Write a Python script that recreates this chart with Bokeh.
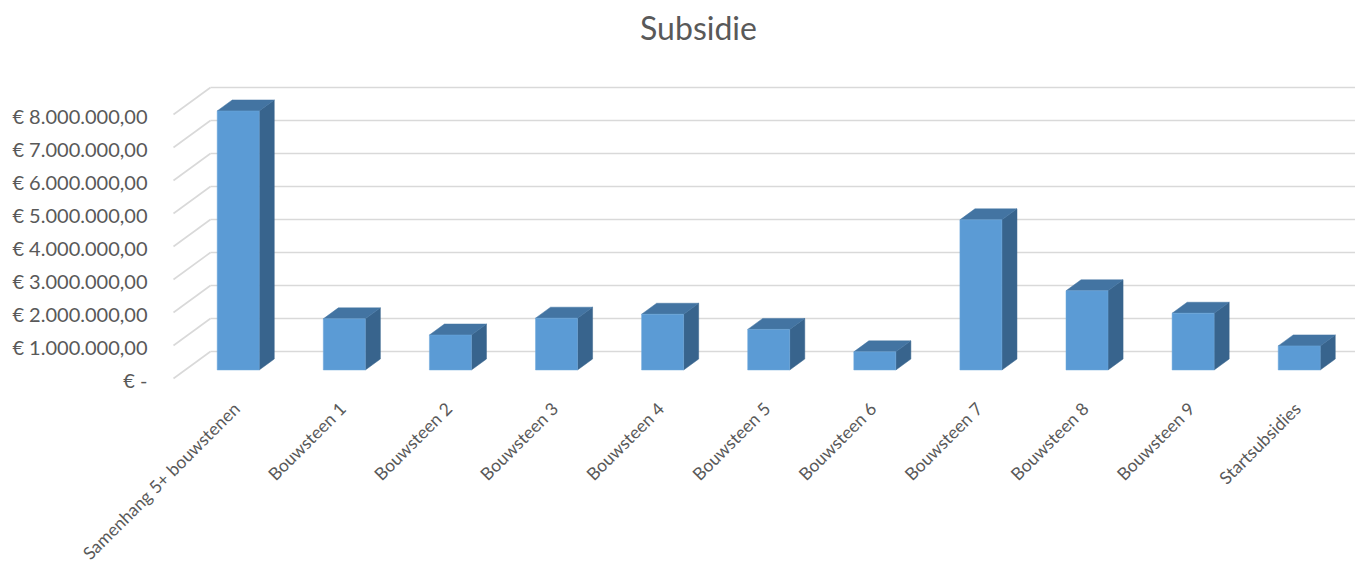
import numpy as np
from bokeh.plotting import figure
from bokeh.models import Range1d
from bokeh.core.properties import value
from bokeh.embed import file_html
from bokeh.resources import INLINE

# ---------------- data ----------------
title_text = "Subsidie"
categories = ["Samenhang 5+ bouwstenen", "Bouwsteen 1", "Bouwsteen 2", "Bouwsteen 3",
              "Bouwsteen 4", "Bouwsteen 5", "Bouwsteen 6", "Bouwsteen 7",
              "Bouwsteen 8", "Bouwsteen 9", "Startsubsidies"]
subsidie = [7850000, 1550000, 1060000, 1570000, 1690000, 1230000,
            550000, 4550000, 2400000, 1720000, 730000]
y_ticks = [0, 1000000, 2000000, 3000000, 4000000, 5000000, 6000000, 7000000, 8000000]
y_tick_labels = ["€ -", "€ 1.000.000,00", "€ 2.000.000,00", "€ 3.000.000,00",
                 "€ 4.000.000,00", "€ 5.000.000,00", "€ 6.000.000,00",
                 "€ 7.000.000,00", "€ 8.000.000,00"]

# ---------------- 3D geometry (data units) ----------------
DEPTH_X = 0.3487        # floor depth, in category units
DEPTH_Y = 818000        # floor depth, in value units
F_FRONT, F_BACK = 0.315, 0.722   # bar position within the depth
HALF_W = 0.198
GRID_END = 12.0

FRONT_C = "#5B9BD5"
TOP_C = "#4374A2"
SIDE_C = "#38648D"
GRID_C = "#D9D9D9"
TEXT_C = "#595959"
FONT = "Lato"

p = figure(width=1355, height=571, output_backend="svg", toolbar_location=None,
           x_range=Range1d(-1.6305, 11.1404), y_range=Range1d(-5848500, 11454500),
           x_axis_location=None, y_axis_location=None, min_border=0,
           outline_line_color=None, tools="")
p.grid.visible = False
p.background_fill_color = "white"

# gridlines: back wall + floor-side diagonals
gx0 = [DEPTH_X for _ in y_ticks]
gx1 = [GRID_END for _ in y_ticks]
gy = [t + DEPTH_Y for t in y_ticks]
p.segment(x0=gx0, y0=gy, x1=gx1, y1=gy, line_color=GRID_C, line_width=1.6)
p.segment(x0=[0 for _ in y_ticks], y0=y_ticks, x1=gx0, y1=gy,
          line_color=GRID_C, line_width=1.6)

# bars
idx = np.arange(len(categories))
dx1, dy1 = F_FRONT * DEPTH_X, F_FRONT * DEPTH_Y
dx2, dy2 = F_BACK * DEPTH_X, F_BACK * DEPTH_Y
L = idx + 0.5 - HALF_W
R = idx + 0.5 + HALF_W
v = np.array(subsidie, dtype=float)

side_xs = [[r + dx1, r + dx2, r + dx2, r + dx1] for r in R]
side_ys = [[dy1, dy2, val + dy2, val + dy1] for val in v]
top_xs = [[l + dx1, r + dx1, r + dx2, l + dx2] for l, r in zip(L, R)]
top_ys = [[val + dy1, val + dy1, val + dy2, val + dy2] for val in v]

p.patches(xs=side_xs, ys=side_ys, fill_color=SIDE_C, line_color=SIDE_C, line_width=0.5)
p.patches(xs=top_xs, ys=top_ys, fill_color=TOP_C, line_color=TOP_C, line_width=0.5)
p.quad(left=L + dx1, right=R + dx1, bottom=[dy1] * len(v), top=v + dy1,
       fill_color=FRONT_C, line_color="#6FA8DC", line_width=0.5)

# y tick labels (front plane)
p.text(x=[-0.245] * len(y_ticks), y=y_ticks, text=y_tick_labels,
       text_align="right", text_baseline="middle", y_offset=2,
       text_font=value(FONT), text_font_size="20px", text_color=TEXT_C)

# category labels, rotated 45 degrees
p.text(x=idx + 0.5 + 0.094, y=[-820000] * len(categories), text=categories,
       angle=np.pi / 4, text_align="right", text_baseline="middle",
       text_font=value(FONT), text_font_size="17.5px", text_color=TEXT_C)

# title
p.text(x=[(698 - 173) / 106.1], y=[(378 - 27) / 33 * 1e6], text=[title_text],
       text_align="center", text_baseline="middle",
       text_font=value(FONT), text_font_size="32px", text_color=TEXT_C)

open("out.html", "w").write(file_html(p, INLINE))
